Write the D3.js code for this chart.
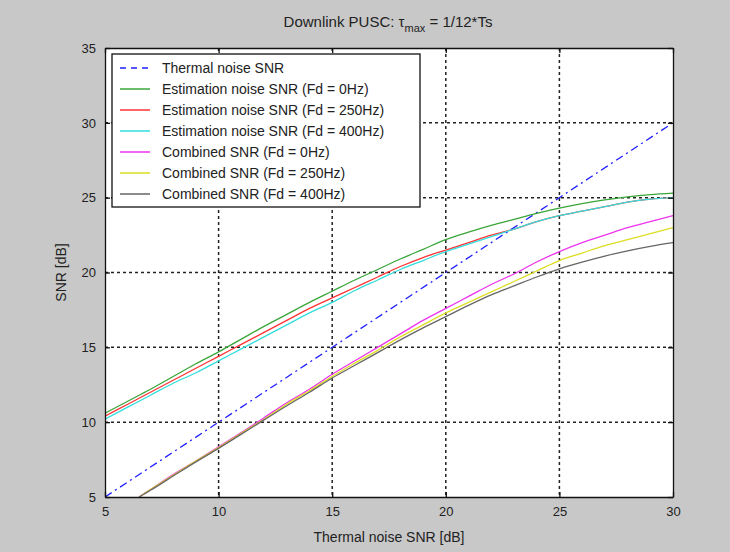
<!DOCTYPE html>
<html>
<head>
<meta charset="utf-8">
<script src="https://cdn.jsdelivr.net/npm/d3@7"></script>
<style>
  body { margin: 0; background: #ffffff; }
  svg { display: block; }
  text { font-family: "Liberation Sans", Arial, sans-serif; fill: #222; }
</style>
</head>
<body>
<div id="chart"></div>
<script>
// x values (thermal noise SNR, dB)
const xEst = [5, 6, 7, 8, 9, 10, 11, 12, 13, 14, 15, 16, 17, 18, 19, 20, 21, 22, 23, 24, 25, 26, 27, 28, 29, 30];
const xComb = [6.5, 7, 8, 9, 10, 11, 12, 13, 14, 15, 16, 17, 18, 19, 20, 21, 22, 23, 24, 25, 26, 27, 28, 29, 30];
const xThermal = [5, 30];

const thermal = [5, 30];
const est0 = [10.6, 11.4, 12.2, 13.05, 13.9, 14.7, 15.55, 16.4, 17.2, 18.0, 18.75, 19.5, 20.2, 20.9, 21.55, 22.2, 22.7, 23.15, 23.55, 23.95, 24.3, 24.6, 24.85, 25.05, 25.2, 25.3];
const est250 = [10.4, 11.2, 12.0, 12.8, 13.6, 14.4, 15.2, 16.0, 16.8, 17.6, 18.3, 19.0, 19.7, 20.4, 21.0, 21.5, 22.0, 22.5, 22.9, 23.4, 23.8, 24.1, 24.4, 24.7, 24.9, 25.0];
const est400 = [10.2, 11.0, 11.8, 12.6, 13.3, 14.1, 14.9, 15.7, 16.5, 17.3, 18.0, 18.8, 19.5, 20.2, 20.8, 21.4, 21.9, 22.4, 22.9, 23.4, 23.8, 24.1, 24.4, 24.7, 24.9, 25.0];
const comb0 = [5.0, 5.5, 6.5, 7.4, 8.35, 9.3, 10.3, 11.3, 12.2, 13.2, 14.1, 15.0, 15.9, 16.8, 17.6, 18.4, 19.2, 19.9, 20.7, 21.4, 22.0, 22.5, 23.0, 23.4, 23.8];
const comb250 = [5.0, 5.5, 6.45, 7.4, 8.3, 9.25, 10.2, 11.2, 12.1, 13.05, 13.95, 14.8, 15.7, 16.5, 17.3, 18.0, 18.7, 19.4, 20.1, 20.8, 21.3, 21.8, 22.2, 22.6, 23.0];
const comb400 = [5.0, 5.45, 6.4, 7.35, 8.25, 9.2, 10.15, 11.1, 12.0, 12.95, 13.8, 14.65, 15.5, 16.3, 17.05, 17.8, 18.5, 19.1, 19.7, 20.25, 20.7, 21.1, 21.45, 21.75, 22.0];

const seriesNames = [
  "Thermal noise SNR",
  "Estimation noise SNR (Fd = 0Hz)",
  "Estimation noise SNR (Fd = 250Hz)",
  "Estimation noise SNR (Fd = 400Hz)",
  "Combined SNR (Fd = 0Hz)",
  "Combined SNR (Fd = 250Hz)",
  "Combined SNR (Fd = 400Hz)"
];
const xTicks = [5, 10, 15, 20, 25, 30];
const yTicks = [5, 10, 15, 20, 25, 30, 35];

const series = [
  { name: seriesNames[0], xs: xThermal, ys: thermal, color: "#2020ff", dash: "8,4,2,4" },
  { name: seriesNames[1], xs: xEst, ys: est0, color: "#3aa63a" },
  { name: seriesNames[2], xs: xEst, ys: est250, color: "#ff3333" },
  { name: seriesNames[3], xs: xEst, ys: est400, color: "#33dddd" },
  { name: seriesNames[4], xs: xComb, ys: comb0, color: "#ee33ee" },
  { name: seriesNames[5], xs: xComb, ys: comb250, color: "#dddd22" },
  { name: seriesNames[6], xs: xComb, ys: comb400, color: "#666666" }
];

const width = 730, height = 552;
const pLeft = 105, pRight = 673, pTop = 48, pBottom = 497;

const svg = d3.select("#chart")
  .append("svg")
    .attr("width", width)
    .attr("height", height);

svg.append("rect")
  .attr("x", 0).attr("y", 0)
  .attr("width", width).attr("height", height)
  .attr("fill", "#c8c8c8");

const x = d3.scaleLinear().domain([5, 30]).range([pLeft, pRight]);
const y = d3.scaleLinear().domain([5, 35]).range([pBottom, pTop]);

svg.append("rect")
  .attr("x", pLeft).attr("y", pTop)
  .attr("width", pRight - pLeft).attr("height", pBottom - pTop)
  .attr("fill", "#ffffff");

// grid
const grid = svg.append("g");
grid.selectAll(".gx")
  .data(xTicks.slice(1, -1))
  .enter().append("line")
    .attr("x1", d => x(d)).attr("x2", d => x(d))
    .attr("y1", pTop).attr("y2", pBottom)
    .attr("stroke", "#222").attr("stroke-width", 1.5)
    .attr("stroke-dasharray", "3,3");
grid.selectAll(".gy")
  .data(yTicks.slice(1, -1))
  .enter().append("line")
    .attr("y1", d => y(d)).attr("y2", d => y(d))
    .attr("x1", pLeft).attr("x2", pRight)
    .attr("stroke", "#222").attr("stroke-width", 1.5)
    .attr("stroke-dasharray", "3,3");

// lines
svg.append("clipPath").attr("id", "clip")
  .append("rect")
    .attr("x", pLeft).attr("y", pTop)
    .attr("width", pRight - pLeft).attr("height", pBottom - pTop);

const line = d3.line().curve(d3.curveMonotoneX).x(d => x(d[0])).y(d => y(d[1]));

svg.append("g").attr("clip-path", "url(#clip)")
  .selectAll("path")
  .data(series)
  .enter().append("path")
    .attr("d", s => line(s.xs.map((v, i) => [v, s.ys[i]])))
    .attr("fill", "none")
    .attr("stroke", s => s.color)
    .attr("stroke-width", 1.3)
    .attr("stroke-dasharray", s => s.dash || null);

// axes with inward ticks on all four sides
const axisStyle = g => {
  g.select(".domain").attr("stroke", "#111").attr("stroke-width", 1.3);
  g.selectAll(".tick line").attr("stroke", "#111").attr("stroke-width", 1.3);
  g.selectAll(".tick text")
    .style("font-family", "'Liberation Sans', Arial, sans-serif")
    .style("font-size", "13px").attr("fill", "#222");
};

svg.append("g")
  .attr("transform", `translate(0,${pBottom})`)
  .call(d3.axisBottom(x).tickValues(xTicks).tickSize(-5).tickSizeOuter(0).tickPadding(10))
  .call(axisStyle);
svg.append("g")
  .attr("transform", `translate(0,${pTop})`)
  .call(d3.axisTop(x).tickValues(xTicks).tickSize(-5).tickSizeOuter(0).tickFormat(""))
  .call(axisStyle);
svg.append("g")
  .attr("transform", `translate(${pLeft},0)`)
  .call(d3.axisLeft(y).tickValues(yTicks).tickSize(-5).tickSizeOuter(0).tickPadding(9))
  .call(axisStyle);
svg.append("g")
  .attr("transform", `translate(${pRight},0)`)
  .call(d3.axisRight(y).tickValues(yTicks).tickSize(-5).tickSizeOuter(0).tickFormat(""))
  .call(axisStyle);

// legend
const lg = svg.append("g").attr("transform", "translate(112,54)");
lg.append("rect")
  .attr("width", 308).attr("height", 153)
  .attr("fill", "#ffffff").attr("stroke", "#111").attr("stroke-width", 1.3);
const rows = lg.selectAll(".row")
  .data(series)
  .enter().append("g")
    .attr("transform", (d, i) => `translate(0,${14 + i * 21})`);
rows.append("line")
  .attr("x1", 8).attr("x2", 38)
  .attr("stroke", d => d.color).attr("stroke-width", 1.5)
  .attr("stroke-dasharray", d => d.dash ? "6,5" : null);
rows.append("text")
  .attr("x", 50).attr("dy", "0.35em")
  .style("font-size", "14px")
  .text(d => d.name);

// title and labels
const title = svg.append("text")
  .attr("x", 388).attr("y", 27)
  .attr("text-anchor", "middle")
  .style("font-size", "15px");
title.append("tspan").text("Downlink PUSC: \u03c4");
title.append("tspan").attr("dy", 5).style("font-size", "11px").text("max");
title.append("tspan").attr("dy", -5).text(" = 1/12*Ts");

svg.append("text")
  .attr("x", (pLeft + pRight) / 2).attr("y", 542)
  .attr("text-anchor", "middle")
  .style("font-size", "14px")
  .text("Thermal noise SNR [dB]");

svg.append("text")
  .attr("transform", `translate(66,${(pTop + pBottom) / 2}) rotate(-90)`)
  .attr("text-anchor", "middle")
  .style("font-size", "14px")
  .text("SNR [dB]");
</script>
</body>
</html>
